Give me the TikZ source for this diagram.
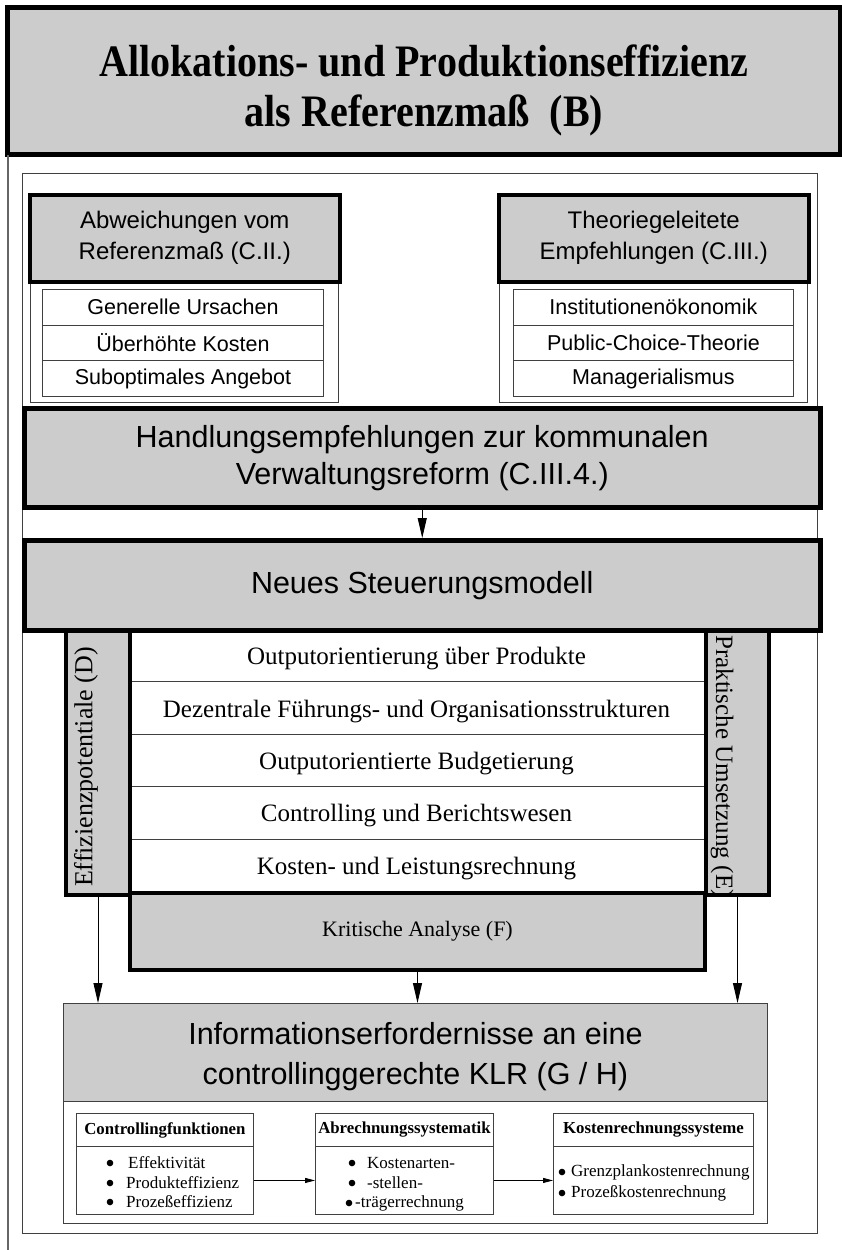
\documentclass[tikz,border=0pt]{standalone}
\usepackage{fontspec}
\setmainfont{Liberation Serif}
\setsansfont{Liberation Sans}
\newfontfamily\titlefont{Liberation Serif}[FakeStretch=0.89]
\usetikzlibrary{arrows.meta}
\definecolor{boxgray}{HTML}{CCCCCC}
\definecolor{linegray}{HTML}{404040}
\tikzset{
  thickbox/.style={draw=black, line width=4pt, fill=boxgray, inner sep=0pt, anchor=north west},
  thinbox/.style={draw=linegray, line width=0.9pt, fill=white, inner sep=0pt, anchor=north west},
  graythin/.style={draw=linegray, line width=0.9pt, fill=boxgray, inner sep=0pt, anchor=north west},
  frameline/.style={draw=linegray, line width=0.9pt},
  sideline/.style={draw=gray!80!black, line width=1.8pt},
  sansrow/.style={thinbox, font=\sffamily\fontsize{21.5}{26}\selectfont},
  serifrow/.style={thinbox, minimum width=576pt, minimum height=52.4pt, text height=22pt, text depth=4pt, font=\fontsize{25}{30}\selectfont},
  hdr/.style={thinbox, minimum height=33pt, font=\bfseries\fontsize{16.8}{20}\selectfont},
  itemtext/.style={anchor=west, inner sep=0pt, font=\fontsize{17}{20}\selectfont},
  arr/.style={-{Triangle[length=20pt,width=9pt]}, line width=0.9pt},
  smallarr/.style={-{Triangle[length=10pt,width=5pt]}, line width=0.9pt},
}
\begin{document}
\begin{tikzpicture}[x=1pt,y=-1pt]
\useasboundingbox (0,0) rectangle (842,1250);
\fill[white] (0,0) rectangle (842,1250);

% title
\node[thickbox, line width=5pt, minimum width=833pt, minimum height=147pt] (title) at (5,5) {};
\node[font=\titlefont\bfseries\fontsize{45}{50}\selectfont, align=center, inner sep=0pt] (titletext)
      at ([yshift=-9pt]title.center)
      {Allokations- und Produktionseffizienz\\als Referenzmaß\ \ (B)};
\draw[sideline] (8,155) -- (8,1250);
\draw[frameline] (22,173) rectangle (817,1233);

% left group
\draw[frameline] (30,193) rectangle (338,402);
\node[thickbox, line width=3.5pt, minimum width=310pt, minimum height=87pt,
      font=\sffamily\fontsize{24}{31}\selectfont, align=center] (abw) at (28,193)
      {Abweichungen vom\\Referenzmaß (C.II.)};
\node[sansrow, minimum width=281pt, minimum height=35.7pt] (gu) at (42,289) {Generelle Ursachen};
\node[sansrow, minimum width=281pt, minimum height=35.7pt] (uk) at (42,324.7) {Überhöhte Kosten};
\node[sansrow, minimum width=281pt, minimum height=35.7pt] (sa) at (42,360.4) {Suboptimales Angebot};

% right group
\draw[frameline] (499,193) rectangle (807,402);
\node[thickbox, line width=3.5pt, minimum width=310pt, minimum height=87pt,
      font=\sffamily\fontsize{24}{31}\selectfont, align=center] (the) at (497,193)
      {Theoriegeleitete\\Empfehlungen (C.III.)};
\node[sansrow, minimum width=280pt, minimum height=35.7pt] (io) at (513,289) {Institutionenökonomik};
\node[sansrow, minimum width=280pt, minimum height=35.7pt] (pc) at (513,324.7) {Public-Choice-Theorie};
\node[sansrow, minimum width=280pt, minimum height=35.7pt] (ma) at (513,360.4) {Managerialismus};

% Handlungsempfehlungen
\node[thickbox, line width=4.5pt, minimum width=796pt, minimum height=99pt,
      font=\sffamily\fontsize{30.5}{37}\selectfont, align=center] (hand) at (22,406)
      {Handlungsempfehlungen zur kommunalen\\Verwaltungsreform (C.III.4.)};

% rows
\node[serifrow] (r1) at (128,629) {Outputorientierung über Produkte};
\node[serifrow] (r2) at (128,681.4) {Dezentrale Führungs- und Organisationsstrukturen};
\node[serifrow] (r3) at (128,733.8) {Outputorientierte Budgetierung};
\node[serifrow] (r4) at (128,786.2) {Controlling und Berichtswesen};
\node[serifrow] (r5) at (128,838.6) {Kosten- und Leistungsrechnung};

% Neues Steuerungsmodell
\node[thickbox, line width=4.5pt, minimum width=796pt, minimum height=90pt,
      font=\sffamily\fontsize{30.5}{37}\selectfont] (neu) at (22,538)
      {Neues Steuerungsmodell};
\draw[arr] (hand.south) -- (neu.north);

% side boxes
\node[thickbox, minimum width=64pt, minimum height=264pt] (eff) at (64,629) {};
\node[rotate=90, inner sep=0pt, font=\fontsize{26}{30}\selectfont] (efft) at (86,767) {Effizienzpotentiale (D)};
\node[thickbox, minimum width=63pt, minimum height=264pt] (prak) at (704,629) {};
\node[rotate=-90, anchor=west, inner sep=0pt, font=\fontsize{25}{30}\selectfont] (prakt) at (722,635) {Praktische Umsetzung (E)};

% Kritische Analyse
\node[thickbox, minimum width=575pt, minimum height=77pt, font=\fontsize{22}{26}\selectfont] (krit) at (128,891) {Kritische Analyse (F)};

% Informationserfordernisse
\node[graythin, minimum width=704pt, minimum height=98pt] (info) at (63,1003) {};
\node[font=\sffamily\fontsize{30.5}{40}\selectfont, align=center, inner sep=0pt] (infotext)
      at ([yshift=-4pt]info.center)
      {Informationserfordernisse an eine\\controllinggerechte KLR (G / H)};
\node[thinbox, minimum width=704pt, minimum height=122pt] (infob) at (63,1101) {};

\draw[arr] (eff.south) -- (eff.south |- info.north);
\draw[arr] (krit.south) -- (krit.south |- info.north);
\draw[arr] (prak.south) -- (prak.south |- info.north);

% bottom boxes
\node[hdr, minimum width=177pt] (cfh) at (76,1113) {Controllingfunktionen};
\node[thinbox, minimum width=177pt, minimum height=68pt] (cfb) at (76,1146) {};
\fill (110,1163) circle (3.3pt);
\fill (110,1183) circle (3.3pt);
\fill (110,1202) circle (3.3pt);
\node[itemtext] (cf1) at (128,1163) {Effektivität};
\node[itemtext] (cf2) at (126,1183) {Produkteffizienz};
\node[itemtext] (cf3) at (126,1202) {Prozeßeffizienz};

\node[hdr, minimum width=178pt] (abh) at (315,1113) {Abrechnungssystematik};
\node[thinbox, minimum width=178pt, minimum height=68pt] (abb) at (315,1146) {};
\fill (352,1163) circle (3.3pt);
\fill (352,1183) circle (3.3pt);
\fill (349,1203) circle (3.3pt);
\node[itemtext] (ab1) at (367,1163) {Kostenarten-};
\node[itemtext] (ab2) at (367,1183) {-stellen-};
\node[itemtext] (ab3) at (355,1203) {-trägerrechnung};

\node[hdr, minimum width=200pt] (krh) at (553,1113) {Kostenrechnungssysteme};
\node[thinbox, minimum width=200pt, minimum height=68pt] (krb) at (553,1146) {};
\fill (562,1172) circle (3.3pt);
\fill (562,1193) circle (3.3pt);
\node[itemtext] (kr1) at (571,1172) {Grenzplankostenrechnung};
\node[itemtext] (kr2) at (571,1193) {Prozeßkostenrechnung};

\draw[smallarr] (cfb.east) -- (abb.west);
\draw[smallarr] (abb.east) -- (krb.west);
\end{tikzpicture}
\end{document}
